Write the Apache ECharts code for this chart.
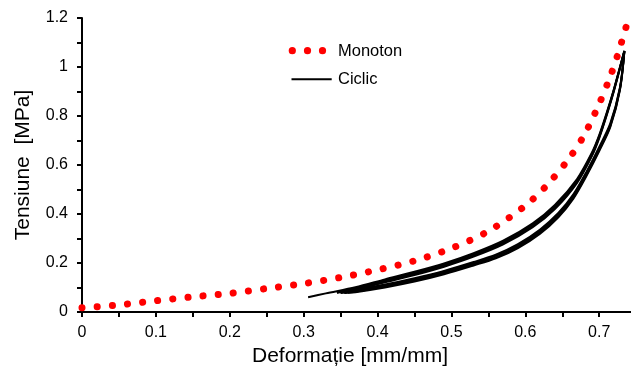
<!DOCTYPE html>
<html>
<head>
<meta charset="utf-8">
<script src="https://cdn.jsdelivr.net/npm/echarts@6/dist/echarts.min.js"></script>
<style>
  html, body { margin: 0; padding: 0; background: #fff; }
  #chart { width: 631px; height: 372px; }
</style>
</head>
<body>
<div id="chart"></div>
<script>
// Monotonic compression test: strain [mm/mm] vs stress [MPa]
const monotonStrain = [0, 0.05, 0.10, 0.15, 0.20, 0.25, 0.30, 0.35, 0.40, 0.45, 0.50, 0.55, 0.60, 0.63, 0.66, 0.68, 0.70, 0.715, 0.725, 0.737];
const monotonStress = [0.017, 0.029, 0.046, 0.062, 0.076, 0.096, 0.116, 0.141, 0.172, 0.209, 0.260, 0.330, 0.434, 0.520, 0.630, 0.724, 0.850, 0.962, 1.050, 1.170];

// Cyclic test: loading branches (upper) and unloading branches (lower), four cycles
const load1 = [[0.306,0.060],[0.33,0.076],[0.37,0.101],[0.41,0.133],[0.45,0.164],[0.49,0.198],[0.53,0.240],[0.57,0.291],[0.61,0.362],[0.64,0.437],[0.67,0.543],[0.69,0.650],[0.70,0.722],[0.71,0.812],[0.72,0.911],[0.734,1.066]];
const unload1 = [[0.734,1.066],[0.728,0.916],[0.715,0.770],[0.70,0.674],[0.683,0.574],[0.665,0.480],[0.645,0.405],[0.62,0.337],[0.59,0.277],[0.56,0.234],[0.53,0.204],[0.49,0.168],[0.45,0.138],[0.41,0.112],[0.37,0.090],[0.345,0.079]];
const load2 = [[0.345,0.079],[0.37,0.097],[0.41,0.129],[0.45,0.159],[0.49,0.193],[0.53,0.235],[0.57,0.285],[0.61,0.357],[0.64,0.431],[0.67,0.537],[0.69,0.645],[0.70,0.718],[0.71,0.808],[0.72,0.908],[0.734,1.065]];
const unload2 = [[0.734,1.065],[0.728,0.912],[0.715,0.764],[0.70,0.668],[0.683,0.568],[0.665,0.474],[0.645,0.399],[0.62,0.331],[0.59,0.271],[0.56,0.229],[0.53,0.199],[0.49,0.163],[0.45,0.133],[0.41,0.108],[0.37,0.086],[0.35,0.078]];
const load3 = [[0.35,0.078],[0.37,0.093],[0.41,0.125],[0.45,0.155],[0.49,0.189],[0.53,0.230],[0.57,0.280],[0.61,0.351],[0.64,0.425],[0.67,0.531],[0.69,0.640],[0.70,0.714],[0.71,0.805],[0.72,0.906],[0.734,1.064]];
const unload3 = [[0.734,1.064],[0.728,0.909],[0.715,0.759],[0.70,0.662],[0.683,0.562],[0.665,0.468],[0.645,0.393],[0.62,0.325],[0.59,0.265],[0.56,0.223],[0.53,0.194],[0.49,0.158],[0.45,0.128],[0.41,0.104],[0.37,0.083],[0.355,0.078]];
const load4 = [[0.355,0.078],[0.37,0.090],[0.41,0.121],[0.45,0.151],[0.49,0.185],[0.53,0.226],[0.57,0.276],[0.61,0.346],[0.64,0.420],[0.67,0.527],[0.69,0.636],[0.70,0.710],[0.71,0.802],[0.72,0.903],[0.734,1.063]];
const unload4 = [[0.734,1.063],[0.728,0.906],[0.715,0.755],[0.70,0.657],[0.683,0.557],[0.665,0.463],[0.645,0.388],[0.62,0.320],[0.59,0.261],[0.56,0.219],[0.53,0.190],[0.49,0.154],[0.45,0.124],[0.41,0.100],[0.37,0.081],[0.36,0.079]];

const ciclicBranches = [load1, unload1, load2, unload2, load3, unload3, load4, unload4];

const FONT = 'Liberation Sans';

const chart = echarts.init(document.getElementById('chart'), null, { renderer: 'canvas' });

const monotonSeries = {
  name: 'Monoton',
  type: 'line',
  data: monotonStrain.map((x, i) => [x, monotonStress[i]]),
  smooth: 0.3,
  symbol: 'none',
  lineStyle: { color: '#ff0000', width: 7, type: [0.1, 15.1], cap: 'round' },
  z: 3
};

const ciclicSeries = ciclicBranches.map(branch => ({
  name: 'Ciclic',
  type: 'line',
  data: branch,
  smooth: 0.3,
  symbol: 'none',
  lineStyle: { color: '#000', width: 2 },
  z: 4
}));

// Legend drawn as graphics: dotted red sample and solid black sample
const legendGraphics = [
  { type: 'circle', shape: { cx: 292.3, cy: 50.7, r: 3.6 }, style: { fill: '#ff0000' } },
  { type: 'circle', shape: { cx: 307.5, cy: 50.7, r: 3.6 }, style: { fill: '#ff0000' } },
  { type: 'circle', shape: { cx: 322.5, cy: 50.7, r: 3.6 }, style: { fill: '#ff0000' } },
  { type: 'text', x: 338, y: 51, style: { text: 'Monoton', font: '16.5px "Liberation Sans"', fill: '#000', verticalAlign: 'middle' } },
  { type: 'line', shape: { x1: 291.5, y1: 79.3, x2: 331.7, y2: 79.3 }, style: { stroke: '#000', lineWidth: 2 } },
  { type: 'text', x: 338, y: 79.5, style: { text: 'Ciclic', font: '16.5px "Liberation Sans"', fill: '#000', verticalAlign: 'middle' } }
];

chart.setOption({
  animation: false,
  backgroundColor: '#fff',
  grid: { left: 82, top: 18, right: 0, bottom: 58, containLabel: false },
  graphic: legendGraphics,
  xAxis: {
    type: 'value',
    min: 0,
    max: 0.743,
    interval: 0.05,
    name: 'Deformație [mm/mm]',
    nameLocation: 'middle',
    nameGap: 34,
    nameTextStyle: { fontFamily: FONT, fontSize: 21, color: '#000', padding: [0, 13, 0, 0] },
    axisLine: { show: true, onZero: false, lineStyle: { color: '#000', width: 2 } },
    axisTick: { show: true, inside: false, length: 5, lineStyle: { color: '#000', width: 2 } },
    axisLabel: {
      fontFamily: FONT, fontSize: 16, color: '#000', margin: 13,
      showMaxLabel: false,
      formatter: v => (Math.round(v * 100) % 10 === 0 ? String(Number(v.toFixed(1))) : '')
    },
    splitLine: { show: false }
  },
  yAxis: {
    type: 'value',
    min: 0,
    max: 1.2,
    interval: 0.2,
    name: 'Tensiune  [MPa]',
    nameLocation: 'middle',
    nameGap: 48,
    nameTextStyle: { fontFamily: FONT, fontSize: 21, color: '#000' },
    axisLine: { show: true, lineStyle: { color: '#000', width: 2 } },
    axisTick: { show: true, inside: false, length: 5, lineStyle: { color: '#000', width: 2 } },
    minorTick: { show: true, splitNumber: 2, length: 5, lineStyle: { color: '#000', width: 2 } },
    axisLabel: { fontFamily: FONT, fontSize: 16, color: '#000', margin: 14 },
    splitLine: { show: false }
  },
  series: [monotonSeries].concat(ciclicSeries)
});
</script>
</body>
</html>
